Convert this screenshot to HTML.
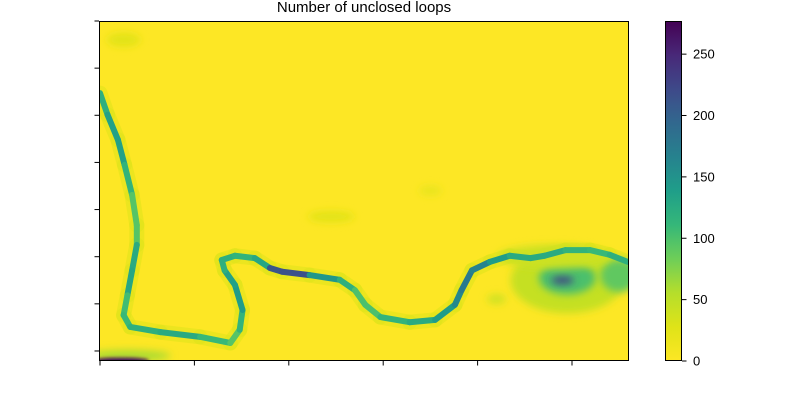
<!DOCTYPE html>
<html><head><meta charset="utf-8"><style>
body{margin:0;background:#fff;}
svg text{font-family:"Liberation Sans",sans-serif;}
</style></head><body>
<svg id="chart" width="800" height="400" xmlns="http://www.w3.org/2000/svg">
<defs>
<linearGradient id="cbgrad" x1="0" y1="1" x2="0" y2="0"></linearGradient>
<clipPath id="plotclip"><rect x="99" y="21" width="530" height="340"/></clipPath>
<filter id="blur5" x="-100%" y="-100%" width="300%" height="300%"><feGaussianBlur stdDeviation="4"/></filter>
<filter id="blur1" x="-100%" y="-100%" width="300%" height="300%"><feGaussianBlur stdDeviation="1.5"/></filter>
</defs>
<text x="364" y="12" font-size="15" text-anchor="middle">Number of unclosed loops</text>
<g id="plot" clip-path="url(#plotclip)"></g>
<rect x="99.5" y="21.5" width="529" height="339" fill="none" stroke="#000" stroke-width="1"/>
<g id="axes"></g>
<rect id="cb" x="665" y="21" width="17" height="340" fill="url(#cbgrad)"/>
<rect x="665.5" y="21.5" width="16" height="339" fill="none" stroke="#000" stroke-width="1"/>
<g id="cbaxis"></g>
</svg>
<script>
// river path (x in column units, y in row units), values = loop counts
const riverX = [0,0.08,0.19,0.26,0.34,0.39,0.39,0.34,0.29,0.25,0.32,0.64,1.06,1.38,1.48,1.51,1.43,1.32,1.29,1.43,1.64,1.80,1.93,2.22,2.54,2.70,2.81,2.97,3.28,3.55,3.76,3.83,3.94,4.13,4.34,4.56,4.71,4.93,5.19,5.40,5.59];
const riverY = [1.53,1.99,2.52,3.05,3.69,4.33,4.75,5.29,5.82,6.24,6.49,6.60,6.70,6.83,6.55,6.13,5.60,5.29,5.07,4.98,5.03,5.24,5.32,5.39,5.49,5.71,6.02,6.28,6.39,6.34,6.02,5.71,5.29,5.11,4.98,5.03,4.98,4.86,4.86,4.96,5.11];
const riverV = [110,130,140,130,100,90,100,150,110,100,120,120,130,90,100,130,150,120,120,120,110,150,270,160,130,110,90,110,120,130,150,170,180,150,130,120,130,120,110,110,130];
// blobs (patches of loops)
const blobX = [0.25,2.45,3.5,4.95,4.95,4.9,5.5,0.3,4.2,0.22,4.8];
const blobY = [0.4,4.15,3.6,5.5,5.45,5.5,5.4,7.1,5.9,7.2,5.0];
const blobRx = [0.18,0.25,0.12,0.6,0.3,0.12,0.2,0.45,0.1,0.3,0.6];
const blobRy = [0.15,0.12,0.1,0.7,0.35,0.08,0.35,0.12,0.1,0.06,0.25];
const blobV = [25,25,20,45,100,230,90,60,40,270,40];
// colorbar ticks
const cbTicks = [0,50,100,150,200,250];
const cbMax = 277;
const xTicks = [0,1,2,3,4,5];
const yTicks = [0,1,2,3,4,5,6,7];

const NS="http://www.w3.org/2000/svg";
const X0=100, XS=94.4, Y0=21, YS=47.14;
const xs=v=>X0+v*XS, ys=v=>Y0+v*YS;
const stops=[[0,[68,1,84]],[0.1,[72,40,120]],[0.2,[62,73,137]],[0.3,[49,104,142]],[0.4,[38,130,142]],[0.5,[31,158,137]],[0.6,[53,183,121]],[0.7,[110,206,88]],[0.8,[181,222,43]],[0.9,[223,227,24]],[1,[253,231,37]]];
function viridis(t){t=Math.max(0,Math.min(1,t));for(let i=1;i<stops.length;i++){if(t<=stops[i][0]){const a=stops[i-1],b=stops[i];const f=(t-a[0])/(b[0]-a[0]);const c=a[1].map((v,k)=>Math.round(v+(b[1][k]-v)*f));return `rgb(${c})`;}}return 'rgb(253,231,37)';}
const cmap=v=>viridis(1-v/cbMax);
function mk(tag,attrs,parent){const e=document.createElementNS(NS,tag);for(const k in attrs)e.setAttribute(k,attrs[k]);parent.appendChild(e);return e;}
const grad=document.getElementById('cbgrad');
for(let i=0;i<=20;i++){mk('stop',{offset:i/20,'stop-color':cmap(i/20*cbMax)},grad);}
const plot=document.getElementById('plot');
const bg=mk('rect',{x:99,y:21,width:530,height:340,fill:cmap(0)},plot);


for(let i=0;i<riverX.length-1;i++){
 const h=mk('line',{x1:xs(riverX[i]),y1:ys(riverY[i]),x2:xs(riverX[i+1]),y2:ys(riverY[i+1]),stroke:cmap(30),'stroke-width':15,'stroke-linecap':'round','stroke-opacity':0.5},plot);
 
 
}
for(let i=0;i<blobX.length;i++){
 const c=mk('ellipse',{cx:xs(blobX[i]),cy:ys(blobY[i]),rx:blobRx[i]*XS,ry:blobRy[i]*YS,fill:cmap(blobV[i]),filter:i===9?'url(#blur1)':'url(#blur5)'},plot);
 
 
}
for(let i=0;i<riverX.length-1;i++){
 const l=mk('line',{x1:xs(riverX[i]),y1:ys(riverY[i]),x2:xs(riverX[i+1]),y2:ys(riverY[i+1]),stroke:cmap((riverV[i]+riverV[i+1])/2),'stroke-width':6,'stroke-linecap':'round'},plot);
 
 
}
const axes=document.getElementById('axes');
xTicks.forEach(t=>{const l=mk('line',{x1:xs(t),x2:xs(t),y1:361,y2:365.5,stroke:'#000'},axes);
 
 });
yTicks.forEach(t=>{const l=mk('line',{x1:94.5,x2:99,y1:ys(t),y2:ys(t),stroke:'#000'},axes);
 
 });
const cba=document.getElementById('cbaxis');
const cy=v=>361-v/cbMax*340;
cbTicks.forEach(t=>{const l=mk('line',{x1:682,x2:686.5,y1:cy(t),y2:cy(t),stroke:'#000'},cba);
 
 
 const tx=mk('text',{x:693,y:cy(t)+4.5,'font-size':13},cba);tx.textContent=t;
 
 });
</script>
</body></html>
